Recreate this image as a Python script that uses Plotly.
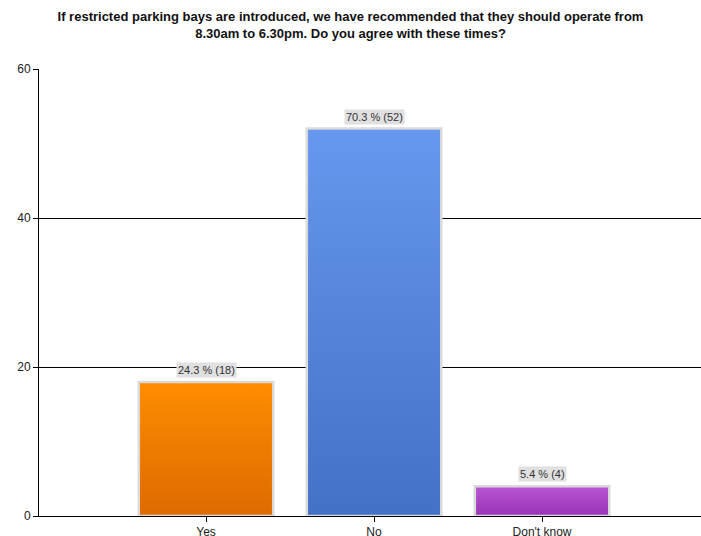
import plotly.graph_objects as go

# Survey responses
categories = ["Yes", "No", "Don't know"]
counts = [18, 52, 4]
top_colors = ["#FF8C00", "#6797EE", "#BA55D3"]
bottom_colors = ["#DD6A00", "#4271C6", "#9A33B8"]
y_ticks = [0, 20, 40, 60]

total = sum(counts)
bar_width = 0.8
half = bar_width / 2

fig = go.Figure()

# Bars drawn as filled polygons so each one can carry a vertical gradient
for i, (cat, n) in enumerate(zip(categories, counts)):
    fig.add_trace(go.Scatter(
        x=[i - half, i - half, i + half, i + half, i - half],
        y=[0, n, n, 0, 0],
        mode="lines",
        fill="toself",
        fillgradient=dict(type="vertical",
                          colorscale=[[0, bottom_colors[i]], [1, top_colors[i]]]),
        line=dict(color="#D9D9D9", width=2.5),
        hoverinfo="skip",
        showlegend=False,
        name=cat,
    ))

# Value labels above bars
annotations = []
for i, n in enumerate(counts):
    pct = 100 * n / total
    annotations.append(dict(
        x=i, y=n, xref="x", yref="y",
        text=f"{pct:.1f} % ({n})",
        showarrow=False, yanchor="bottom", yshift=4,
        bgcolor="#E0E0E0", borderpad=1,
        font=dict(family="Liberation Sans, Arial, sans-serif", size=11, color="#333333"),
    ))

fig.update_layout(
    width=701, height=536,
    margin=dict(l=39, r=0, t=69, b=20),
    paper_bgcolor="white", plot_bgcolor="white",
    title=dict(
        text="<b>If restricted parking bays are introduced, we have recommended that they should operate from<br>8.30am to 6.30pm. Do you agree with these times?</b>",
        x=0.5, xanchor="center", y=0.96, yanchor="top",
        font=dict(family="Liberation Sans, Arial, sans-serif", size=13, color="#111111"),
    ),
    annotations=annotations,
    xaxis=dict(
        range=[-0.994, 2.946],
        tickvals=list(range(len(categories))), ticktext=categories,
        showgrid=False, zeroline=False, automargin=False,
        showline=True, linecolor="black", linewidth=1,
        ticks="outside", ticklen=5, tickcolor="black",
        tickfont=dict(family="Liberation Sans, Arial, sans-serif", size=12, color="#222222"),
        fixedrange=True,
    ),
    yaxis=dict(
        range=[0, 60], tickvals=y_ticks,
        showgrid=True, gridcolor="black", gridwidth=1,
        zeroline=False, automargin=False,
        showline=True, linecolor="black", linewidth=1,
        ticks="outside", ticklen=5, tickcolor="black",
        tickfont=dict(family="Liberation Sans, Arial, sans-serif", size=12, color="#222222"),
        fixedrange=True,
    ),
)

fig.write_html("out.html")
